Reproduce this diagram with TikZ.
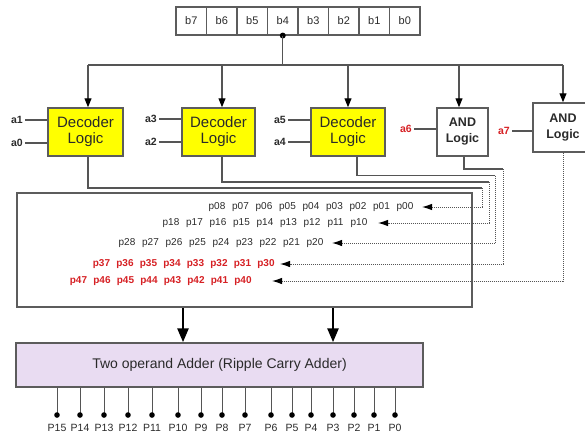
\documentclass[tikz,border=0pt]{standalone}
\usepackage{fontspec}
\setmainfont{Liberation Sans}
\usetikzlibrary{arrows.meta}

\definecolor{wire}{HTML}{555555}
\definecolor{edgegray}{HTML}{5C5C5C}
\definecolor{ink}{HTML}{2A2A2A}
\definecolor{redtxt}{HTML}{D62024}
\definecolor{adderfill}{HTML}{E9DCF2}
\definecolor{decfill}{HTML}{FFFF00}

\tikzset{
  wireline/.style={draw=wire, line width=1.1pt},
  dotline/.style={draw=wire, line width=1pt, densely dotted},
  dotarrow/.style={dotline, -{Latex[length=10pt,width=6.5pt,color=black]}},
  droparrow/.style={wireline, -{Triangle[length=9pt,width=7pt,color=black]}},
  bigarrow/.style={draw=black, line width=2.6pt, -{Triangle[length=14pt,width=11pt]}},
  cellbox/.style={draw=edgegray, line width=1.1pt, minimum width=30.5pt, minimum height=28pt,
    inner sep=0pt, font=\fontsize{11}{12}\selectfont, text=ink},
  decbox/.style={draw=edgegray, line width=1.5pt, fill=decfill, minimum height=48pt,
    inner sep=0pt, align=center, font=\fontsize{15}{16}\selectfont, text=ink},
  andbox/.style={draw=edgegray, line width=1.5pt, fill=white, minimum height=48pt,
    inner sep=0pt, align=center, font=\bfseries\fontsize{12.5}{16}\selectfont, text=ink},
  inlbl/.style={anchor=east, inner sep=2pt, font=\bfseries\fontsize{10.5}{12}\selectfont, text=ink},
  redlbl/.style={inlbl, text=redtxt},
  pp/.style={inner sep=0pt, font=\fontsize{10}{12}\selectfont, text=ink},
  pprd/.style={inner sep=0pt, font=\bfseries\fontsize{10}{12}\selectfont, text=redtxt},
  pinlbl/.style={inner sep=0pt, font=\fontsize{10.5}{12}\selectfont, text=ink},
}

\begin{document}
\begin{tikzpicture}[x=1pt,y=-1pt]
\useasboundingbox (0,0) rectangle (585,440);

% input register b7 ... b0
\foreach \i [count=\k from 0] in {7,6,...,0}
  \node[cellbox] (b\i) at (191.25+30.5*\k,21) {b\i};
\fill[black] (b4.south) circle (3pt);

% broadcast bus
\coordinate (d1) at (88,65);
\coordinate (d2) at (222,65);
\coordinate (d3) at (348,65);
\coordinate (d4) at (459,65);
\coordinate (d5) at (563,65);
\draw[wireline] (b4.south) -- (b4.south |- d1);
\draw[wireline] (d1) -- (d5);

% logic blocks
\node[decbox, minimum width=75pt] (dec1) at (85.5,132) {Decoder\\Logic};
\node[decbox, minimum width=73pt] (dec2) at (218.5,132) {Decoder\\Logic};
\node[decbox, minimum width=74pt] (dec3) at (348,132) {Decoder\\Logic};
\node[andbox, minimum width=51pt] (and1) at (462.5,132) {AND\\Logic};
\node[andbox, minimum width=60pt, minimum height=49pt] (and2) at (563,127.5) {AND\\Logic};

\foreach \d/\b in {d1/dec1,d2/dec2,d3/dec3,d4/and1,d5/and2}
  \draw[droparrow] (\d) -- (\d |- \b.north);

% operand inputs
\node[inlbl] (a1) at (25,120) {a1};
\node[inlbl] (a0) at (25,143) {a0};
\node[inlbl] (a3) at (159,119) {a3};
\node[inlbl] (a2) at (159,142) {a2};
\node[inlbl] (a5) at (288,120) {a5};
\node[inlbl] (a4) at (288,142) {a4};
\node[redlbl] (a6) at (414,129) {a6};
\node[redlbl] (a7) at (512,131) {a7};
\foreach \a/\b in {a1/dec1,a0/dec1,a3/dec2,a2/dec2,a5/dec3,a4/dec3,a6/and1,a7/and2}
  \draw[wireline] (\a.east) -- (\a.east -| \b.west);

% partial product array
\node[draw=edgegray, line width=1.5pt, minimum width=455pt, minimum height=114pt, inner sep=0pt]
  (pbox) at (244.5,250) {};

\foreach \k in {0,...,8} \node[pp] (p0\k) at (405-23.5*\k,207) {p0\k};
\foreach \k in {0,...,8} \node[pp] (p1\k) at (359-23.5*\k,223) {p1\k};
\foreach \k in {0,...,8} \node[pp] (p2\k) at (315-23.5*\k,243) {p2\k};
\foreach \k in {0,...,7} \node[pprd] (p3\k) at (266-23.5*\k,264) {p3\k};
\foreach \k in {0,...,7} \node[pprd] (p4\k) at (243-23.5*\k,281) {p4\k};

% row arrow tips
\coordinate (t0) at (422,207);
\coordinate (t1) at (378,223);
\coordinate (t2) at (332,243);
\coordinate (t3) at (280,264);
\coordinate (t4) at (272,281);

% routing corners
\coordinate (c1) at (482,188);
\coordinate (c2) at (489,182);
\coordinate (c3) at (495,175.5);
\coordinate (c4) at (503,169);

\draw[wireline] ([xshift=2.5pt]dec1.south) |- (c1);
\draw[dotarrow] (c1) |- (t0);
\draw[wireline] ([xshift=3.5pt]dec2.south) |- (c2);
\draw[dotarrow] (c2) |- (t1);
\draw[wireline] ([xshift=9pt]dec3.south) |- (c3);
\draw[dotarrow] (c3) |- (t2);
\draw[wireline] ([xshift=1.5pt]and1.south) |- (c4);
\draw[dotarrow] (c4) |- (t3);
\draw[dotarrow] (and2.south) |- (t4);

% adder
\node[draw=edgegray, line width=1.5pt, fill=adderfill, minimum width=407pt, minimum height=44pt,
  inner sep=0pt, font=\fontsize{14}{16}\selectfont, text=ink] (adder) at (219.5,365)
  {Two operand Adder (Ripple Carry Adder)};

\draw[bigarrow] (183,0 |- pbox.south) -- (183,0 |- adder.north);
\draw[bigarrow] (333,0 |- pbox.south) -- (333,0 |- adder.north);

% sum outputs
\foreach \x/\n in {57/15,80/14,104/13,128/12,152/11,178/10,201/9,222/8,245/7,271/6,292/5,311/4,333/3,354/2,374/1,395/0}{
  \coordinate (q\n) at (\x,415);
  \draw[draw=wire, line width=0.9pt] (q\n |- adder.south) -- (q\n);
  \fill[black] (q\n) circle (2.8pt);
  \node[pinlbl] (P\n) at (\x,428) {P\n};
}
\end{tikzpicture}
\end{document}
